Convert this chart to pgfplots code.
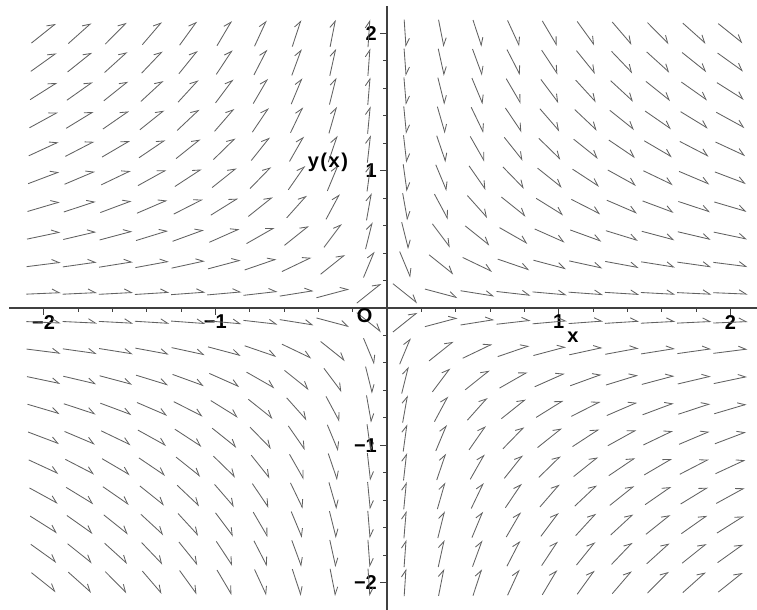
\documentclass[border=0pt]{standalone}
\usepackage{pgfplots}
\pgfplotsset{compat=1.18}
\usepackage{pgfplotstable}
\usepackage{fontspec}
\setmainfont{Liberation Sans}
\usetikzlibrary{arrows.meta}

% first-quadrant grid points (x,y) and unit direction magnitudes (u = |dx|, w = |dy|)
\pgfplotstableread{
x y u w
0.1053 0.1053 0.707 0.707
0.3158 0.1053 0.949 0.316
0.5263 0.1053 0.981 0.196
0.7368 0.1053 0.990 0.141
0.9474 0.1053 0.994 0.110
1.1579 0.1053 0.996 0.091
1.3684 0.1053 0.997 0.077
1.5789 0.1053 0.998 0.067
1.7895 0.1053 0.998 0.059
2.0000 0.1053 0.999 0.053
0.1053 0.3158 0.316 0.949
0.3158 0.3158 0.707 0.707
0.5263 0.3158 0.857 0.514
0.7368 0.3158 0.919 0.394
0.9474 0.3158 0.949 0.316
1.1579 0.3158 0.965 0.263
1.3684 0.3158 0.974 0.225
1.5789 0.3158 0.981 0.196
1.7895 0.3158 0.985 0.174
2.0000 0.3158 0.988 0.156
0.1053 0.5263 0.196 0.981
0.3158 0.5263 0.514 0.857
0.5263 0.5263 0.707 0.707
0.7368 0.5263 0.814 0.581
0.9474 0.5263 0.874 0.486
1.1579 0.5263 0.910 0.414
1.3684 0.5263 0.933 0.359
1.5789 0.5263 0.949 0.316
1.7895 0.5263 0.959 0.282
2.0000 0.5263 0.967 0.254
0.1053 0.7368 0.141 0.990
0.3158 0.7368 0.394 0.919
0.5263 0.7368 0.581 0.814
0.7368 0.7368 0.707 0.707
0.9474 0.7368 0.789 0.614
1.1579 0.7368 0.844 0.537
1.3684 0.7368 0.880 0.474
1.5789 0.7368 0.906 0.423
1.7895 0.7368 0.925 0.381
2.0000 0.7368 0.938 0.346
0.1053 0.9474 0.110 0.994
0.3158 0.9474 0.316 0.949
0.5263 0.9474 0.486 0.874
0.7368 0.9474 0.614 0.789
0.9474 0.9474 0.707 0.707
1.1579 0.9474 0.774 0.633
1.3684 0.9474 0.822 0.569
1.5789 0.9474 0.857 0.514
1.7895 0.9474 0.884 0.468
2.0000 0.9474 0.904 0.428
0.1053 1.1579 0.091 0.996
0.3158 1.1579 0.263 0.965
0.5263 1.1579 0.414 0.910
0.7368 1.1579 0.537 0.844
0.9474 1.1579 0.633 0.774
1.1579 1.1579 0.707 0.707
1.3684 1.1579 0.763 0.646
1.5789 1.1579 0.806 0.591
1.7895 1.1579 0.840 0.543
2.0000 1.1579 0.865 0.501
0.1053 1.3684 0.077 0.997
0.3158 1.3684 0.225 0.974
0.5263 1.3684 0.359 0.933
0.7368 1.3684 0.474 0.880
0.9474 1.3684 0.569 0.822
1.1579 1.3684 0.646 0.763
1.3684 1.3684 0.707 0.707
1.5789 1.3684 0.756 0.655
1.7895 1.3684 0.794 0.607
2.0000 1.3684 0.825 0.565
0.1053 1.5789 0.067 0.998
0.3158 1.5789 0.196 0.981
0.5263 1.5789 0.316 0.949
0.7368 1.5789 0.423 0.906
0.9474 1.5789 0.514 0.857
1.1579 1.5789 0.591 0.806
1.3684 1.5789 0.655 0.756
1.5789 1.5789 0.707 0.707
1.7895 1.5789 0.750 0.662
2.0000 1.5789 0.785 0.620
0.1053 1.7895 0.059 0.998
0.3158 1.7895 0.174 0.985
0.5263 1.7895 0.282 0.959
0.7368 1.7895 0.381 0.925
0.9474 1.7895 0.468 0.884
1.1579 1.7895 0.543 0.840
1.3684 1.7895 0.607 0.794
1.5789 1.7895 0.662 0.750
1.7895 1.7895 0.707 0.707
2.0000 1.7895 0.745 0.667
0.1053 2.0000 0.053 0.999
0.3158 2.0000 0.156 0.988
0.5263 2.0000 0.254 0.967
0.7368 2.0000 0.346 0.938
0.9474 2.0000 0.428 0.904
1.1579 2.0000 0.501 0.865
1.3684 2.0000 0.565 0.825
1.5789 2.0000 0.620 0.785
1.7895 2.0000 0.667 0.745
2.0000 2.0000 0.707 0.707
}\quadrant

\tikzset{fieldarrow/.style={black!62, line width=0.85pt,
  -{Straight Barb[harpoon, length=7pt, width=8pt]}}}
\newcommand{\lblfont}{\fontsize{20}{23}\selectfont\bfseries}

\begin{document}
\begin{tikzpicture}
\begin{axis}[
  scale only axis, width=747.8pt, height=604pt,
  xmin=-2.2, xmax=2.155, ymin=-2.2, ymax=2.2,
  axis lines=middle,
  axis line style={-, line width=1.3pt, black!75},
  tick align=outside,
  xtick={-2,-1,0,1,2}, xticklabels={−2,−1,,1,2},
  ytick={-2,-1,0,1,2}, yticklabels={−2,−1,,1,2},
  minor x tick num=4, minor y tick num=4,
  major tick length=7pt, minor tick length=4pt,
  tick style={black!75, line width=0.8pt},
  ticklabel style={font=\lblfont, inner sep=1pt},
  xticklabel style={yshift=1pt},
  yticklabel style={xshift=-2pt},
  clip=false,
]
% Quadrant I: slope negative
\addplot[fieldarrow, quiver={u=0.2*\thisrow{u}, v=-0.2*\thisrow{w}}]
  table[x expr=\thisrow{x}-0.1*\thisrow{u}, y expr=\thisrow{y}+0.1*\thisrow{w}] {\quadrant};
% Quadrant II: slope positive
\addplot[fieldarrow, quiver={u=0.2*\thisrow{u}, v=0.2*\thisrow{w}}]
  table[x expr=-\thisrow{x}-0.1*\thisrow{u}, y expr=\thisrow{y}-0.1*\thisrow{w}] {\quadrant};
% Quadrant III: slope negative
\addplot[fieldarrow, quiver={u=0.2*\thisrow{u}, v=-0.2*\thisrow{w}}]
  table[x expr=-\thisrow{x}-0.1*\thisrow{u}, y expr=-\thisrow{y}+0.1*\thisrow{w}] {\quadrant};
% Quadrant IV: slope positive
\addplot[fieldarrow, quiver={u=0.2*\thisrow{u}, v=0.2*\thisrow{w}}]
  table[x expr=\thisrow{x}-0.1*\thisrow{u}, y expr=-\thisrow{y}-0.1*\thisrow{w}] {\quadrant};

\node[font=\lblfont\addfontfeatures{LetterSpace=8}] at (axis cs:-0.344,1.063) {y(x)};
\node[font=\lblfont] at (axis cs:1.083,-0.211) {x};
\node[font=\lblfont] at (axis cs:-0.13,-0.06) {O};
\coordinate (bbsw) at (axis cs:-2.254,-2.2);
\coordinate (bbne) at (axis cs:2.155,2.243);
\end{axis}
\pgfresetboundingbox
\path (bbsw) rectangle (bbne);
\end{tikzpicture}
\end{document}
